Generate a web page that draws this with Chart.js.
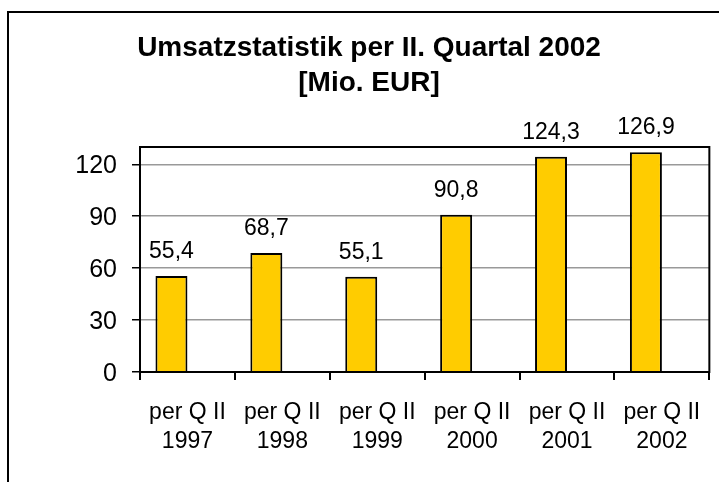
<!DOCTYPE html>
<html>
<head>
<meta charset="utf-8">
<script src="https://cdn.jsdelivr.net/npm/chart.js@4/dist/chart.umd.min.js"></script>
<style>
  html, body { margin: 0; padding: 0; background: #ffffff; }
  canvas { display: block; }
</style>
</head>
<body>
<canvas id="c" width="719" height="482"></canvas>
<script>
const categories = [
  ["per Q II", "1997"],
  ["per Q II", "1998"],
  ["per Q II", "1999"],
  ["per Q II", "2000"],
  ["per Q II", "2001"],
  ["per Q II", "2002"]
];
const umsatz = [55.4, 68.7, 55.1, 90.8, 124.3, 126.9];
const emptySeries = [null, null, null, null, null, null];
const yTicks = [0, 30, 60, 90, 120];
const titleLines = ["Umsatzstatistik per II. Quartal 2002", "[Mio. EUR]"];

const FONT = "'Liberation Sans', Arial, Helvetica, sans-serif";

const framePlugin = {
  id: 'frame',
  beforeDraw(chart) {
    const ctx = chart.ctx;
    ctx.save();
    ctx.fillStyle = '#ffffff';
    ctx.fillRect(0, 0, chart.width, chart.height);
    ctx.strokeStyle = '#000000';
    ctx.lineWidth = 2;
    ctx.strokeRect(8, 12, 800, 600);
    ctx.restore();
  },
  afterDraw(chart) {
    const a = chart.chartArea;
    const ctx = chart.ctx;
    ctx.save();
    ctx.strokeStyle = '#000000';
    ctx.lineWidth = 2;
    ctx.strokeRect(a.left, a.top, a.right - a.left, a.bottom - a.top);
    ctx.restore();
  }
};

const valueLabelPlugin = {
  id: 'valueLabels',
  afterDatasetsDraw(chart) {
    const ctx = chart.ctx;
    const meta = chart.getDatasetMeta(0);
    ctx.save();
    ctx.font = "23px " + FONT;
    ctx.fillStyle = '#000000';
    ctx.textAlign = 'center';
    ctx.textBaseline = 'alphabetic';
    meta.data.forEach((bar, i) => {
      const v = chart.data.datasets[0].data[i];
      if (v == null) return;
      const txt = v.toFixed(1).replace('.', ',');
      ctx.fillText(txt, bar.x, bar.y - 18);
    });
    ctx.restore();
  }
};

new Chart(document.getElementById('c'), {
  type: 'bar',
  data: {
    labels: categories,
    datasets: [
      {
        label: 'Umsatz',
        data: umsatz,
        backgroundColor: '#FFCC00',
        borderColor: '#000000',
        borderWidth: 2,
        categoryPercentage: 0.674,
        barPercentage: 1.0
      },
      {
        label: '',
        data: emptySeries,
        backgroundColor: '#FFCC00',
        borderColor: '#000000',
        borderWidth: 2,
        categoryPercentage: 0.674,
        barPercentage: 1.0
      }
    ]
  },
  options: {
    responsive: false,
    animation: false,
    devicePixelRatio: 1,
    layout: { padding: { left: 28, right: 9, top: 0, bottom: 8 } },
    plugins: {
      legend: { display: false },
      tooltip: { enabled: false },
      title: {
        display: true,
        text: titleLines,
        color: '#000000',
        font: { family: FONT, size: 28, weight: 'bold', lineHeight: 1.25 },
        padding: { top: 31, bottom: 46 }
      }
    },
    scales: {
      x: {
        offset: true,
        grid: {
          display: true,
          drawOnChartArea: false,
          drawTicks: true,
          tickLength: 8,
          tickColor: '#000000',
          lineWidth: 2,
          offset: true
        },
        border: { display: true, color: '#000000', width: 2 },
        ticks: {
          color: '#000000',
          font: { family: FONT, size: 23, lineHeight: '29px' },
          padding: 18,
          maxRotation: 0,
          autoSkip: false
        }
      },
      y: {
        min: 0,
        max: 130,
        afterBuildTicks(scale) {
          scale.ticks = yTicks.map(v => ({ value: v }));
        },
        afterFit(scale) {
          scale.width = 112;
        },
        grid: {
          color: '#999999',
          lineWidth: 1.5,
          drawTicks: true,
          tickLength: 8,
          tickColor: '#000000'
        },
        border: { display: true, color: '#000000', width: 2 },
        ticks: {
          color: '#000000',
          font: { family: FONT, size: 25 },
          padding: 15,
          labelOffset: 2
        }
      }
    }
  },
  plugins: [framePlugin, valueLabelPlugin]
});
</script>
</body>
</html>
